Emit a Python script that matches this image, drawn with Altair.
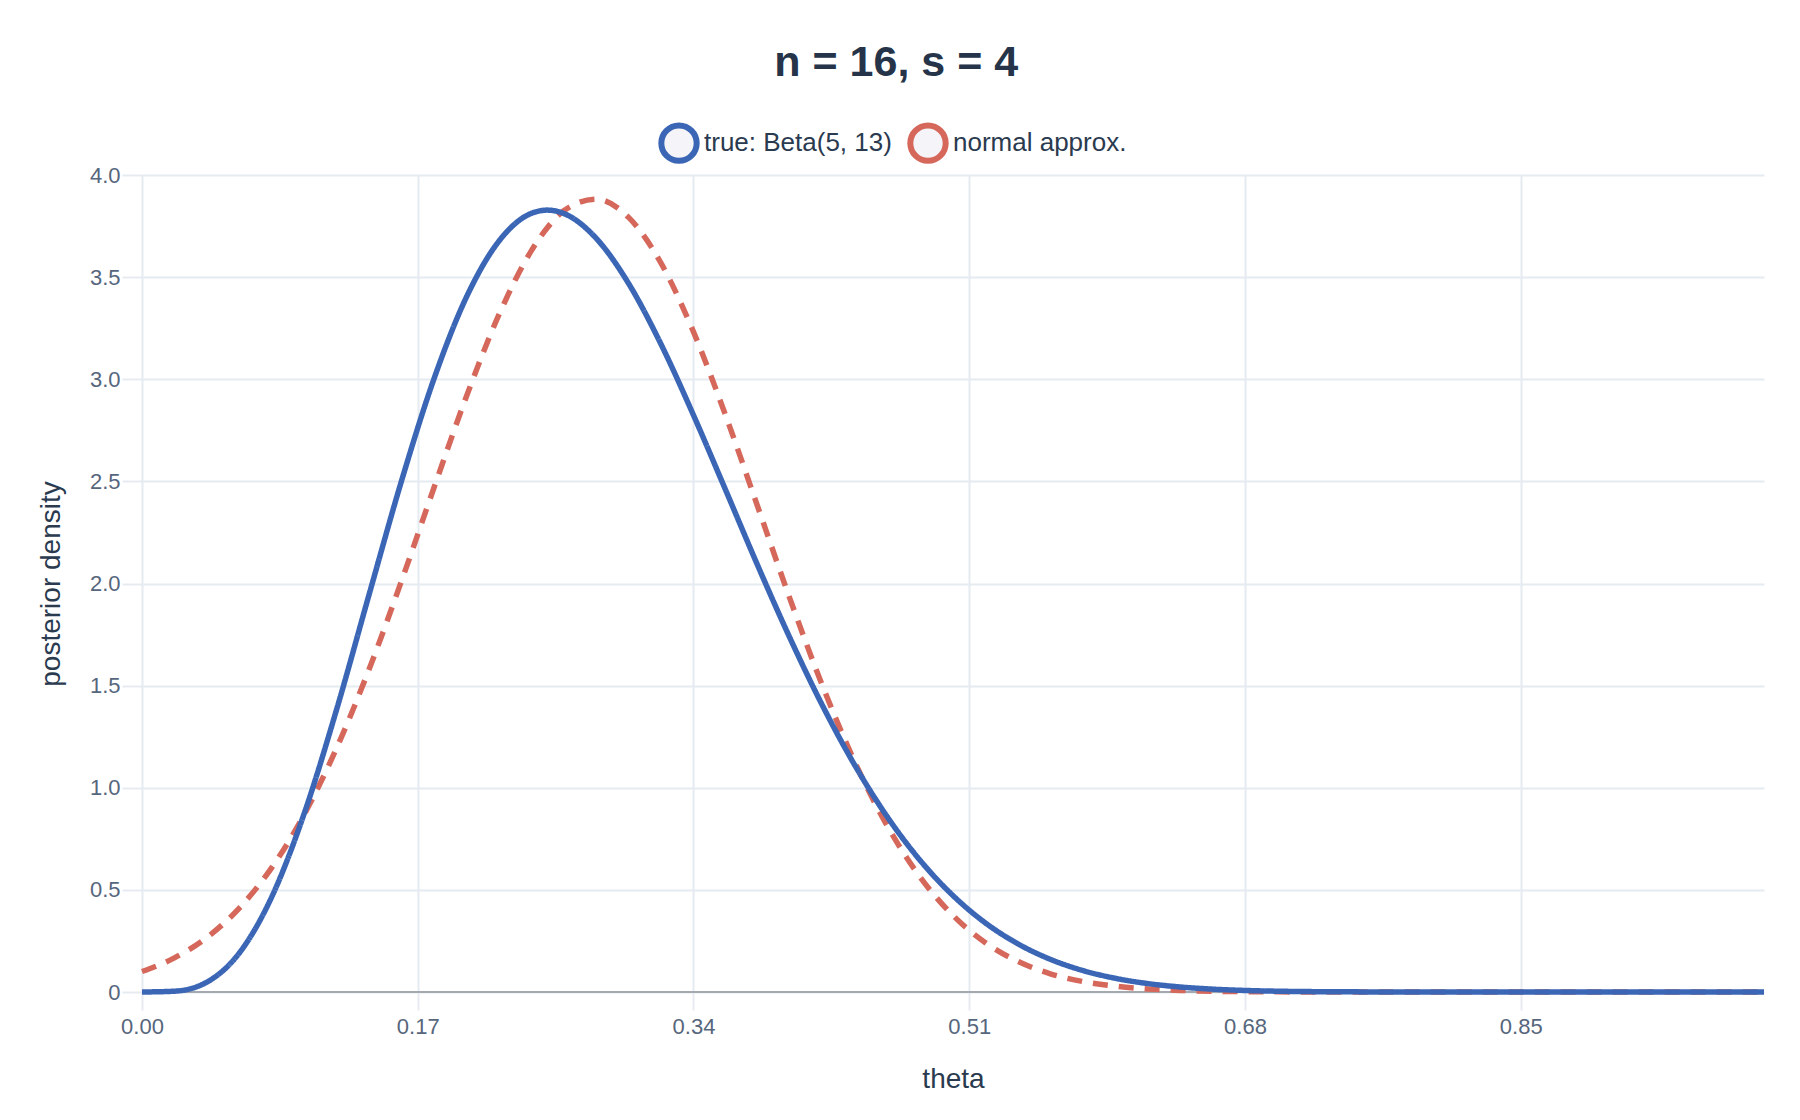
import altair as alt
import pandas as pd

FONT = "Liberation Sans"
INK = "#2a3a4f"
TICK_INK = "#56667c"
GRID = "#e6ebf2"

THETA = [
    0.00, 0.02, 0.04, 0.06, 0.08, 0.10, 0.12, 0.14, 0.16, 0.18, 0.20, 0.22,
    0.24, 0.25, 0.26, 0.28, 0.30, 0.32, 0.34, 0.36, 0.38, 0.40, 0.42, 0.44,
    0.46, 0.48, 0.50, 0.52, 0.54, 0.56, 0.58, 0.60, 0.62, 0.64, 0.66, 0.68,
    0.70, 0.72, 0.74, 0.76, 0.78, 0.80, 0.82, 0.84, 0.86, 0.88, 0.90, 0.92,
    0.94, 0.96, 0.98, 1.00,
]
BETA = [
    0.0, 0.0039, 0.0485, 0.1909, 0.4659, 0.8738, 1.3837, 1.9457, 2.5024,
    3.0018, 3.4019, 3.6757, 3.8122, 3.8281, 3.8117, 3.6902, 3.4688, 3.1713,
    2.8241, 2.4541, 2.0808, 1.7242, 1.3951, 1.1029, 0.8516, 0.6420, 0.4721,
    0.3381, 0.2360, 0.1601, 0.1054, 0.0673, 0.0414, 0.0246, 0.0140, 0.0076,
    0.0039, 0.0019, 0.0009, 0.0004, 0.0001, 0.0001, 0.0, 0.0, 0.0, 0.0, 0.0,
    0.0, 0.0, 0.0, 0.0, 0.0,
]
NORMAL = [
    0.1005, 0.1669, 0.2669, 0.4109, 0.6090, 0.8692, 1.1943, 1.5801, 2.0128,
    2.4687, 2.9153, 3.3146, 3.6286, 3.7430, 3.8246, 3.8814, 3.7926, 3.5681,
    3.2320, 2.8189, 2.3671, 1.9137, 1.4898, 1.1166, 0.8059, 0.5600, 0.3747,
    0.2414, 0.1497, 0.0893, 0.0513, 0.0284, 0.0152, 0.0078, 0.0038, 0.0018,
    0.0008, 0.0004, 0.0002, 0.0001, 0.0, 0.0, 0.0, 0.0, 0.0, 0.0, 0.0, 0.0,
    0.0, 0.0, 0.0, 0.0,
]

SERIES = ["true: Beta(5, 13)", "normal approx."]
COLORS = ["#3a66b5", "#d5685b"]
LINE_STYLES = ["solid", "dashed"]
DASHES = [[1, 0], [15, 11]]
X_TICKS = [0.0, 0.17, 0.34, 0.51, 0.68, 0.85]
Y_TICKS = [0.0, 0.5, 1.0, 1.5, 2.0, 2.5, 3.0, 3.5, 4.0]

df = pd.concat(
    [
        pd.DataFrame(
            {"theta": THETA, "density": BETA,
             "series": SERIES[0], "style": LINE_STYLES[0]}
        ),
        pd.DataFrame(
            {"theta": THETA, "density": NORMAL,
             "series": SERIES[1], "style": LINE_STYLES[1]}
        ),
    ],
    ignore_index=True,
)

x = alt.X(
    "theta:Q",
    title="theta",
    scale=alt.Scale(domain=[0, 1], nice=False, zero=False),
    axis=alt.Axis(
        values=X_TICKS,
        format=".2f",
        tickSize=18,
        labelPadding=6,
        titlePadding=28,
    ),
)
y = alt.Y(
    "density:Q",
    title="posterior density",
    scale=alt.Scale(domain=[0, 4], nice=False),
    axis=alt.Axis(
        values=Y_TICKS,
        labelExpr="datum.value == 0 ? '0' : format(datum.value, '.1f')",
        tickSize=20,
        labelPadding=2,
        titlePadding=24,
    ),
)
color = alt.Color(
    "series:N",
    scale=alt.Scale(domain=SERIES, range=COLORS),
    legend=alt.Legend(
        title=None,
        orient="none",
        legendX=516,
        legendY=-53,
        direction="horizontal",
        symbolType="circle",
        symbolSize=1250,
        symbolStrokeWidth=6,
        symbolFillColor="#f4f4f9",
        symbolOpacity=1,
        labelFont=FONT,
        labelFontSize=26,
        labelColor=INK,
        labelLimit=400,
        labelOffset=4,
        columnPadding=6,
    ),
)
dash = alt.StrokeDash(
    "style:N", scale=alt.Scale(domain=LINE_STYLES, range=DASHES), legend=None
)

zero = (
    alt.Chart(pd.DataFrame({"density": [0.0]}))
    .mark_rule(color="#a4a9b0", strokeWidth=2)
    .encode(y=y)
)

base = (
    alt.Chart(df)
    .mark_line(strokeWidth=5.5, interpolate="monotone")
    .encode(x=x, y=y, color=color, strokeDash=dash)
)
normal_line = base.transform_filter(alt.datum.series == SERIES[1])
beta_line = base.transform_filter(alt.datum.series == SERIES[0])

chart = (
    (zero + normal_line + beta_line)
    .properties(
        width=1622,
        height=817,
        autosize=alt.AutoSizeParams(type="none"),
        padding={"left": 134, "top": 167, "right": 28, "bottom": 120},
        title=alt.TitleParams(
            "n = 16, s = 4",
            font=FONT,
            fontSize=43,
            fontWeight="bold",
            color="#253449",
            anchor="middle",
            frame="bounds",
            dx=-10,
            dy=-33,
        ),
    )
    .configure_view(stroke=None)
    .configure_axis(
        domain=False,
        gridColor=GRID,
        gridWidth=2,
        tickColor=GRID,
        tickWidth=2,
        labelFlush=False,
        labelFont=FONT,
        labelFontSize=22,
        labelColor=TICK_INK,
        titleFont=FONT,
        titleFontSize=28,
        titleFontWeight="normal",
        titleColor=INK,
    )
)

chart.save("out.html", embed_options={"renderer": "svg", "actions": False})
